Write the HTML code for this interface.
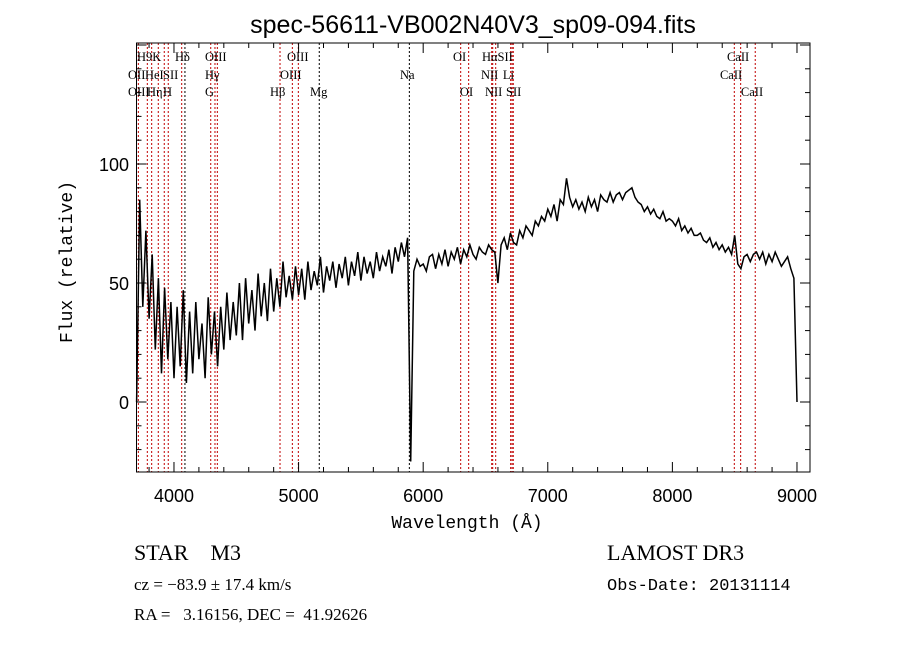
<!DOCTYPE html>
<html><head><meta charset="utf-8"><style>
html,body{margin:0;padding:0;background:#fff;}
svg{display:block;}
</style></head><body>
<svg id="chart" width="900" height="649" viewBox="0 0 900 649" xmlns="http://www.w3.org/2000/svg">
<rect width="900" height="649" fill="#fff"/>
<text x="473" y="33" text-anchor="middle" font-family="Liberation Sans, sans-serif" font-size="25">spec-56611-VB002N40V3_sp09-094.fits</text>
<g id="lines"></g>
<g id="labels" font-family="Liberation Serif, serif" font-size="12.5"></g>
<path id="spec" fill="none" stroke="#000" stroke-width="1.5" stroke-linejoin="miter"/>
<g id="axes" stroke="#000" stroke-width="1"></g>
<g id="ticklabels" font-family="Liberation Sans, sans-serif" font-size="18"></g>
<text x="467" y="528" text-anchor="middle" font-family="Liberation Mono, monospace" font-size="18">Wavelength (Å)</text>
<text transform="translate(72,262) rotate(-90)" text-anchor="middle" font-family="Liberation Mono, monospace" font-size="18">Flux (relative)</text>
<g font-family="Liberation Serif, serif">
<text x="134" y="560" font-size="22">STAR&#160;&#160;&#160;&#160;M3</text>
<text x="134" y="590" font-size="17">cz = −83.9 ± 17.4 km/s</text>
<text x="134" y="620" font-size="17" xml:space="preserve">RA =   3.16156, DEC =  41.92626</text>
<text x="607" y="560" font-size="22">LAMOST DR3</text>
<text x="607" y="590" font-size="17" font-family="Liberation Mono, monospace">Obs-Date: 20131114</text>
</g>
</svg>
<script>
const wStart = 3700, wStep = 25;
const flux = [
0,85,40,72,35,62,22,52,12,48,18,42,
10,40,15,47,8,38,12,42,18,33,10,44,20,38,15,40,22,46,26,42,
28,50,26,52,33,47,30,54,36,50,34,56,38,52,40,59,44,53,43,57,
45,56,43,59,47,55,49,61,46,57,51,59,48,58,52,61,49,59,53,63,
51,61,54,59,52,63,55,61,57,64,54,65,59,67,61,69,-25,55,60,57,
58,55,61,62,56,62,58,64,57,63,60,65,58,64,61,66,62,60,65,63,
62,66,64,63,50,66,69,64,71,67,66,72,69,74,72,70,76,74,78,76,
81,78,83,76,85,83,94,86,82,85,81,84,80,86,82,85,80,87,85,84,
88,84,87,88,85,88,89,90,86,84,83,80,82,79,81,78,77,80,76,77,
76,74,77,72,74,71,73,70,70,71,68,67,69,65,67,64,66,63,65,62,
70,58,56,61,62,59,62,63,60,63,58,62,59,63,60,57,59,61,56,52,
0];
const lineWaves = [3714,3786,3821,3874,3922,3954,4062,4088,4295,4329,4348,4851,4950,4998,5166,5889,6301,6365,6550,6558,6582,6702,6713,6723,8497,8548,8665];
const lineBlack = [4088,5166,5889];
const labelText = ["H9K","Hδ","OIII","OIII","OI","HαSII","CaII","OII","HeI","SII","Hγ","OIII","Na","NII","Li","CaII","OIII","Hη","H","G","Hβ","Mg","OI","NII","SII","CaII"];
const labelWave = [3703,4008,4249,4907,6239,6472,8438,3631,3767,3912,4249,4851,5814,6464,6640,8382,3631,3783,3912,4249,4771,5092,6295,6496,6665,8550];
const labelRow = [0,0,0,0,0,0,0,1,1,1,1,1,1,1,1,1,2,2,2,2,2,2,2,2,2,2];
const xTicks = [4000,5000,6000,7000,8000,9000];
const yTicks = [0,50,100];

const X0=136.6, PX=0.1246, Y0=402, PY=2.38, L=136.5, R=810, T=43, B=472;
const xs = w => X0 + (w-3700)*PX;
const ys = f => Y0 - f*PY;
const NS='http://www.w3.org/2000/svg';
function mk(tag, attrs, parent){const e=document.createElementNS(NS,tag);for(const k in attrs)e.setAttribute(k,attrs[k]);parent.appendChild(e);return e;}

let d='';
flux.forEach((f,i)=>{d+=(i?'L':'M')+xs(wStart+i*wStep).toFixed(1)+' '+ys(f).toFixed(1);});
document.getElementById('spec').setAttribute('d',d);

const lg=document.getElementById('lines');
lineWaves.forEach(w=>{
  const l=mk('line',{x1:xs(w),x2:xs(w),y1:T,y2:B,stroke:lineBlack.includes(w)?'#000':'#c00000','stroke-width':1,'stroke-dasharray':'2,2'},lg);
  
  
});
const lb=document.getElementById('labels');
const rowY=[61,79,96];
labelText.forEach((t,i)=>{
  const e=mk('text',{x:xs(labelWave[i]),y:rowY[labelRow[i]]},lb);
  e.textContent=t;
  
  
});

const ax=document.getElementById('axes');
const fr=mk('rect',{x:L,y:T,width:R-L,height:B-T,fill:'none'},ax);


for(let w=3800;w<=9100;w+=200){
  const major=w%1000===0, len=major?10:5;
  mk('line',{x1:xs(w),x2:xs(w),y1:B,y2:B-len},ax);
  mk('line',{x1:xs(w),x2:xs(w),y1:T,y2:T+len},ax);
}
for(let f=-20;f<=150;f+=10){
  const major=f%50===0, len=major?10:5;
  mk('line',{x1:L,x2:L+len,y1:ys(f),y2:ys(f)},ax);
  mk('line',{x1:R,x2:R-len,y1:ys(f),y2:ys(f)},ax);
}
const tl=document.getElementById('ticklabels');
xTicks.forEach(w=>{
  const e=mk('text',{x:xs(w),y:502,'text-anchor':'middle'},tl);
  e.textContent=w;
  
  
});
yTicks.forEach(f=>{
  const e=mk('text',{x:129,y:ys(f)+7,'text-anchor':'end'},tl);
  e.textContent=f;
  
  
});
</script>
</body></html>
